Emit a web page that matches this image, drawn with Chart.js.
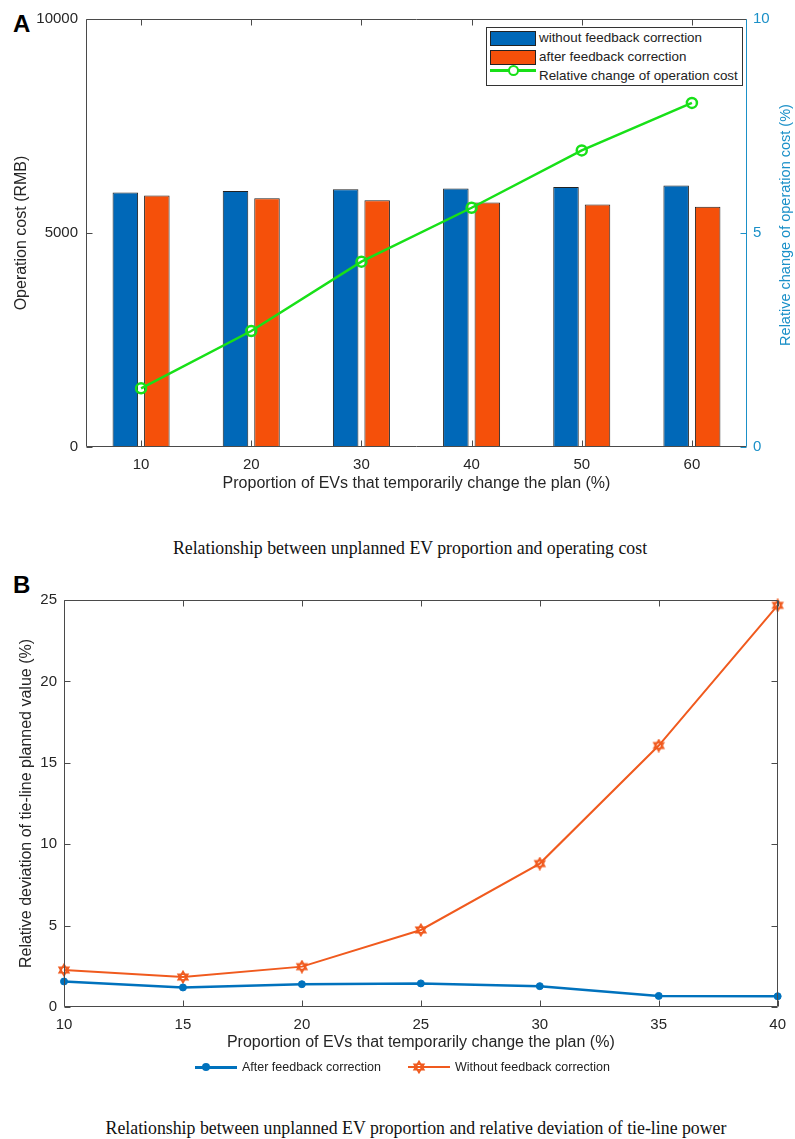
<!DOCTYPE html>
<html>
<head>
<meta charset="utf-8">
<script src="https://cdn.jsdelivr.net/npm/chart.js@4.4.1/dist/chart.umd.min.js"></script>
<style>
  body { margin: 0; background: #fff; width: 795px; height: 1139px; overflow: hidden; position: relative;
         font-family: "Liberation Sans", Arial, sans-serif; color: #262626; }
  .abs { position: absolute; }
  .panel { font-weight: bold; font-size: 24px; line-height: 24px; color: #000; }
  .caption { font-family: "Liberation Serif", "Times New Roman", serif; font-size: 17.8px; line-height: 20px;
             text-align: center; color: #111; white-space: nowrap; }
  .lg { font-size: 13.4px; line-height: 16px; white-space: nowrap; color: #222; }
</style>
</head>
<body>

<div class="abs panel" style="left:13px;top:12px;">A</div>
<canvas id="costChart" class="abs" style="left:0;top:0;" width="795" height="500"></canvas>

<!-- legend A -->
<div class="abs" style="left:486px;top:27px;width:255px;height:57px;border:1px solid #333;background:#fff;">
  <div class="abs" style="left:3px;top:3px;width:44px;height:13px;background:#0068b8;border:1px solid #222;"></div>
  <div class="abs lg" style="left:52px;top:2px;">without feedback correction</div>
  <div class="abs" style="left:3px;top:22px;width:44px;height:13px;background:#f5500a;border:1px solid #222;"></div>
  <div class="abs lg" style="left:52px;top:21px;">after feedback correction</div>
  <div class="abs" style="left:3px;top:41px;width:46px;height:3px;background:#18e018;"></div>
  <div class="abs" style="left:21px;top:37px;width:7px;height:7px;border:2.5px solid #18e018;border-radius:50%;background:#fff;"></div>
  <div class="abs lg" style="left:52px;top:40px;">Relative change of operation cost</div>
</div>

<div class="abs" style="left:635px;top:217px;width:300px;height:16px;line-height:16px;font-size:14.5px;text-align:center;color:#1b90c8;transform:rotate(-90deg);transform-origin:150px 8px;">Relative change of operation cost (%)</div>

<div class="abs caption" style="left:0;top:538px;width:820px;">Relationship between unplanned EV proportion and operating cost</div>

<div class="abs panel" style="left:13px;top:573px;">B</div>
<canvas id="devChart" class="abs" style="left:0;top:560px;" width="795" height="500"></canvas>

<!-- legend B -->
<div class="abs" style="left:195px;top:1066px;width:42px;height:2.5px;background:#0072bd;"></div>
<div class="abs" style="left:202px;top:1063px;width:8px;height:8px;border-radius:50%;background:#0072bd;"></div>
<div class="abs lg" style="left:242px;top:1059px;font-size:12.5px;">After feedback correction</div>
<div class="abs" style="left:408px;top:1066px;width:42px;height:2px;background:#f05a1e;"></div>
<div id="legStar" class="abs" style="left:412px;top:1060px;width:14px;height:14px;"></div>
<div class="abs lg" style="left:455px;top:1059px;font-size:12.5px;">Without feedback correction</div>

<div class="abs caption" style="left:0;top:1118px;width:832px;">Relationship between unplanned EV proportion and relative deviation of tie-line power</div>

<script>
// ---- panel A : operation cost ----
const costCategories = ['10', '20', '30', '40', '50', '60'];
const costWithout = [5944, 5983, 6022, 6037, 6076, 6108];
const costAfter = [5874, 5811, 5764, 5710, 5663, 5616];
const relChange = [1.37, 2.71, 4.33, 5.59, 6.93, 8.04];
const costTicks = [0, 5000, 10000];
const relTicks = [0, 5, 10];

// ---- panel B : tie-line deviation ----
const propX = [10, 15, 20, 25, 30, 35, 40];
const devAfter = [1.57, 1.20, 1.40, 1.45, 1.28, 0.68, 0.66];
const devWithout = [2.27, 1.84, 2.48, 4.73, 8.81, 16.06, 24.67];
const devTicks = [0, 5, 10, 15, 20, 25];

const AXIS = '#4a4a4a';
const RIGHT_BLUE = '#1b90c8';

// box around the plot + matlab style inward ticks
const frame = {
    id: 'frame',
    afterDatasetsDraw(chart, args, o) {
        const {ctx, chartArea: a} = chart;
        const len = o.len || 6;
        const L = Math.round(a.left) + 0.5, R = Math.round(a.right) - 0.5;
        const T = Math.round(a.top) + 0.5, B = Math.round(a.bottom) - 0.5;
        ctx.save();
        ctx.lineWidth = 1;
        const seg = (x1, y1, x2, y2, c) => {
            ctx.strokeStyle = c;
            ctx.beginPath();
            ctx.moveTo(x1, y1);
            ctx.lineTo(x2, y2);
            ctx.stroke();
        };
        o.marks.forEach(m => {
            const s = chart.scales[m.axis];
            s.ticks.forEach((t, i) => {
                const p = Math.round(s.getPixelForTick(i)) + 0.5;
                m.sides.forEach(side => {
                    if (side === 'bottom') seg(p, B, p, B - len, m.color);
                    if (side === 'top') seg(p, T, p, T + len, m.color);
                    if (side === 'left') seg(L, p, L + len, p, m.color);
                    if (side === 'right') seg(R, p, R - len, p, m.color);
                });
            });
        });
        seg(L, T, R, T, o.box.top);
        seg(L, B, R, B, o.box.bottom);
        seg(L, T, L, B, o.box.left);
        seg(R, T, R, B, o.box.right);
        ctx.restore();
    }
};

const tickFont = {family: '"Liberation Sans", Arial, sans-serif', size: 15};
const titleFont = {family: '"Liberation Sans", Arial, sans-serif', size: 16};
const plain = v => String(v);

new Chart(document.getElementById('costChart'), {
    data: {
        labels: costCategories,
        datasets: [
            {
                type: 'line',
                label: 'Relative change of operation cost',
                data: relChange,
                yAxisID: 'y1',
                borderColor: '#18e018',
                borderWidth: 2.5,
                pointStyle: 'circle',
                pointRadius: 5,
                pointBorderWidth: 2.5,
                pointBorderColor: '#18e018',
                pointBackgroundColor: 'rgba(255,255,255,0)',
                order: 0
            },
            {
                type: 'bar',
                label: 'without feedback correction',
                data: costWithout,
                yAxisID: 'y',
                backgroundColor: '#0068b8',
                borderColor: '#222',
                borderWidth: 1,
                categoryPercentage: 0.572,
                barPercentage: 0.81,
                order: 1
            },
            {
                type: 'bar',
                label: 'after feedback correction',
                data: costAfter,
                yAxisID: 'y',
                backgroundColor: '#f5500a',
                borderColor: '#222',
                borderWidth: 1,
                categoryPercentage: 0.572,
                barPercentage: 0.81,
                order: 1
            }
        ]
    },
    options: {
        responsive: false,
        animation: false,
        events: [],
        layout: {padding: {top: 19, left: 0, right: 0, bottom: 0}},
        plugins: {
            legend: {display: false},
            tooltip: {enabled: false},
            frame: {
                len: 6,
                marks: [
                    {axis: 'x', sides: ['bottom', 'top'], color: AXIS},
                    {axis: 'y', sides: ['left'], color: AXIS},
                    {axis: 'y1', sides: ['right'], color: RIGHT_BLUE}
                ],
                box: {top: AXIS, bottom: AXIS, left: AXIS, right: RIGHT_BLUE}
            }
        },
        scales: {
            x: {
                type: 'category',
                offset: true,
                grid: {display: false, drawTicks: false},
                border: {display: false},
                ticks: {padding: 9, color: '#262626', font: tickFont},
                title: {
                    display: true,
                    text: 'Proportion of EVs that temporarily change the plan (%)',
                    color: '#262626',
                    font: titleFont,
                    padding: {top: 0, bottom: 7}
                },
                afterFit: s => { s.height = 53; }
            },
            y: {
                position: 'left',
                min: 0,
                max: 10000,
                afterBuildTicks: s => { s.ticks = costTicks.map(v => ({value: v})); },
                grid: {display: false, drawTicks: false},
                border: {display: false},
                ticks: {padding: 8, color: '#262626', font: tickFont, callback: plain},
                title: {
                    display: true,
                    text: 'Operation cost (RMB)',
                    color: '#262626',
                    font: titleFont,
                    padding: {top: 12, bottom: 0}
                },
                afterFit: s => { s.width = 86; }
            },
            y1: {
                position: 'right',
                min: 0,
                max: 10,
                afterBuildTicks: s => { s.ticks = relTicks.map(v => ({value: v})); },
                grid: {display: false, drawTicks: false},
                border: {display: false},
                ticks: {padding: 6, color: RIGHT_BLUE, font: tickFont, callback: plain},
                afterFit: s => { s.width = 48; }
            }
        }
    },
    plugins: [frame]
});

// six pointed star marker like matlab 'h'
function hexagram(color, size) {
    const c = document.createElement('canvas');
    c.width = size;
    c.height = size;
    const g = c.getContext('2d');
    const cx = size / 2, cy = size / 2, r = size / 2 - 1.5;
    g.strokeStyle = color;
    g.lineWidth = 1.7;
    [-Math.PI / 2, Math.PI / 2].forEach(rot => {
        g.beginPath();
        for (let k = 0; k < 3; k++) {
            const t = rot + k * 2 * Math.PI / 3;
            const px = cx + r * Math.cos(t), py = cy + r * Math.sin(t);
            if (k === 0) g.moveTo(px, py); else g.lineTo(px, py);
        }
        g.closePath();
        g.stroke();
    });
    return c;
}

document.getElementById('legStar').appendChild(hexagram('#f05a1e', 14));

new Chart(document.getElementById('devChart'), {
    type: 'line',
    data: {
        datasets: [
            {
                label: 'After feedback correction',
                data: propX.map((x, i) => ({x: x, y: devAfter[i]})),
                borderColor: '#0072bd',
                borderWidth: 2.5,
                pointStyle: 'circle',
                pointRadius: 3.5,
                pointBorderWidth: 1,
                pointBorderColor: '#0072bd',
                pointBackgroundColor: '#0072bd',
                clip: false
            },
            {
                label: 'Without feedback correction',
                data: propX.map((x, i) => ({x: x, y: devWithout[i]})),
                borderColor: '#f05a1e',
                borderWidth: 2,
                pointStyle: hexagram('#f05a1e', 14),
                pointRadius: 7,
                clip: false
            }
        ]
    },
    options: {
        responsive: false,
        animation: false,
        events: [],
        layout: {padding: {top: 40, left: 0, right: 14, bottom: 0}},
        plugins: {
            legend: {display: false},
            tooltip: {enabled: false},
            frame: {
                len: 6,
                marks: [
                    {axis: 'x', sides: ['bottom', 'top'], color: AXIS},
                    {axis: 'y', sides: ['left', 'right'], color: AXIS}
                ],
                box: {top: AXIS, bottom: AXIS, left: AXIS, right: AXIS}
            }
        },
        scales: {
            x: {
                type: 'linear',
                min: 10,
                max: 40,
                afterBuildTicks: s => { s.ticks = propX.map(v => ({value: v})); },
                grid: {display: false, drawTicks: false},
                border: {display: false},
                ticks: {padding: 9, color: '#262626', font: tickFont, callback: plain},
                title: {
                    display: true,
                    text: 'Proportion of EVs that temporarily change the plan (%)',
                    color: '#262626',
                    font: titleFont,
                    padding: {top: 0, bottom: 8}
                },
                afterFit: s => { s.height = 53; }
            },
            y: {
                min: 0,
                max: 25,
                afterBuildTicks: s => { s.ticks = devTicks.map(v => ({value: v})); },
                grid: {display: false, drawTicks: false},
                border: {display: false},
                ticks: {padding: 7, color: '#262626', font: tickFont, callback: plain},
                title: {
                    display: true,
                    text: 'Relative deviation of tie-line planned value (%)',
                    color: '#262626',
                    font: titleFont,
                    padding: {top: 17, bottom: 0}
                },
                afterFit: s => { s.width = 64; }
            }
        }
    },
    plugins: [frame]
});
</script>
</body>
</html>
